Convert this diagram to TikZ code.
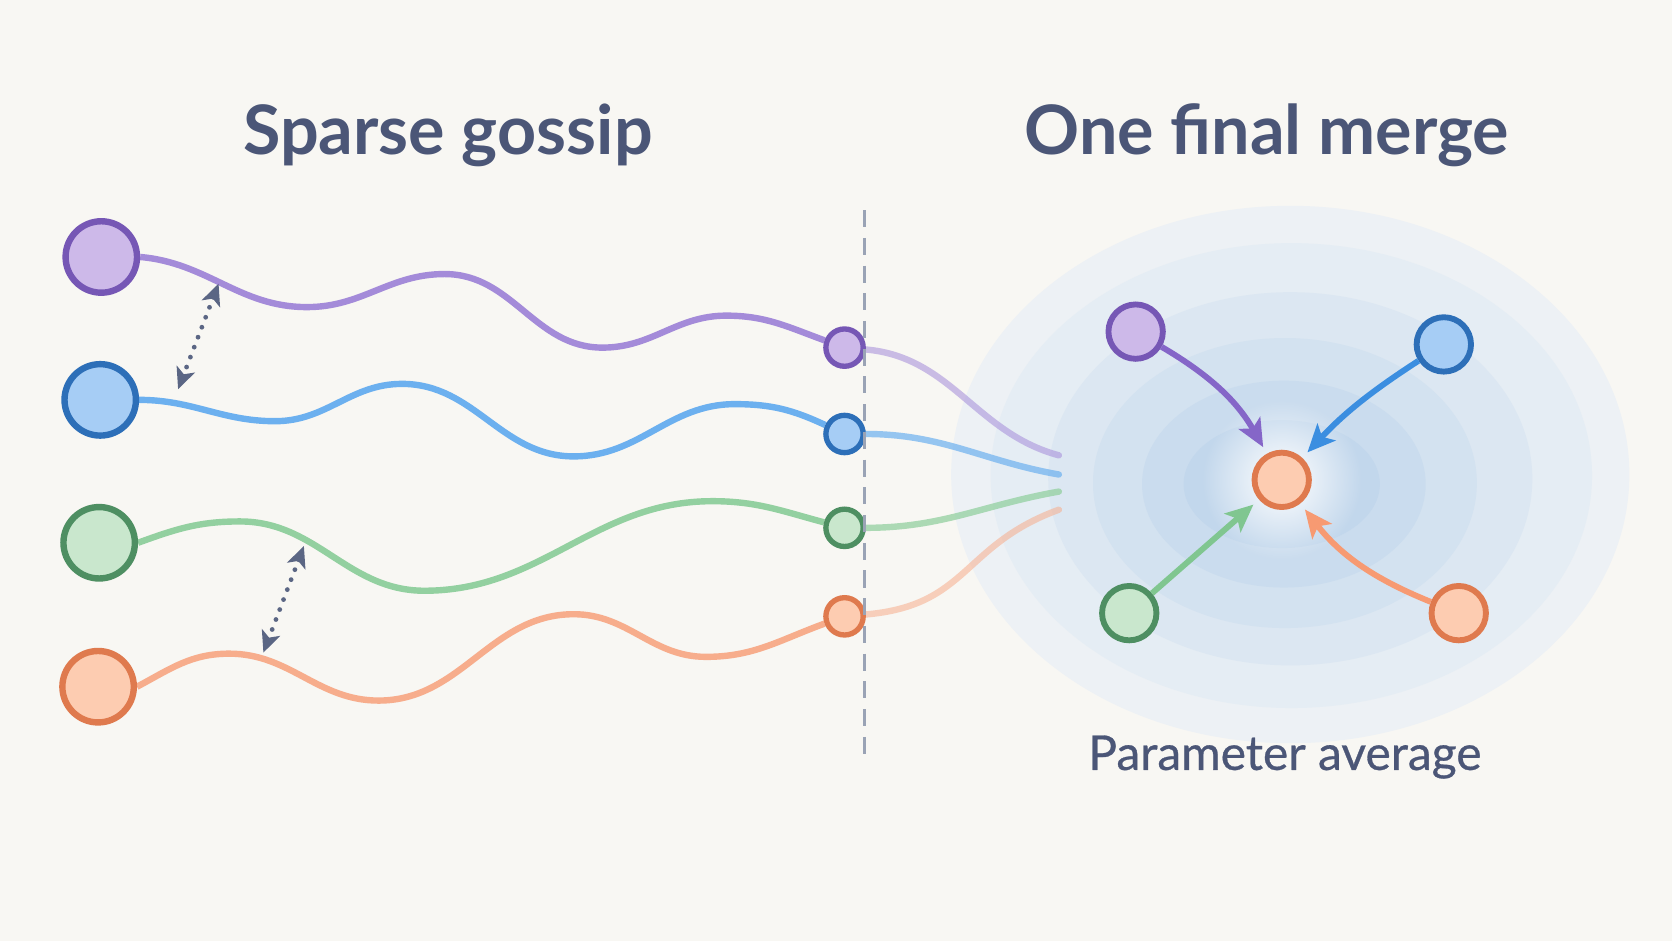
\documentclass[tikz,border=0pt]{standalone}
\usepackage{fontspec}
\setmainfont{Lato}
\newfontfamily\labelfont{Lato}[FakeBold=0.6]
\usetikzlibrary{arrows.meta,fadings}
\definecolor{bg}{HTML}{F8F7F3}
\definecolor{txt}{HTML}{4B5677}
\definecolor{dashc}{HTML}{9AA3B5}
\definecolor{gosc}{HTML}{5B6684}
\definecolor{pF}{HTML}{CDB9E9}\definecolor{pS}{HTML}{7657B5}\definecolor{pC}{HTML}{A48BD9}\definecolor{pA}{HTML}{8566C8}
\definecolor{bF}{HTML}{A6CDF5}\definecolor{bS}{HTML}{2D6FB8}\definecolor{bC}{HTML}{6CB0EF}\definecolor{bA}{HTML}{3B8EE0}
\definecolor{gF}{HTML}{C9E7CD}\definecolor{gS}{HTML}{4E8F62}\definecolor{gC}{HTML}{93D0A0}\definecolor{gA}{HTML}{80C690}
\definecolor{oF}{HTML}{FDCCB1}\definecolor{oS}{HTML}{DF7A4E}\definecolor{oC}{HTML}{F7AD8C}\definecolor{oA}{HTML}{F79A72}
\definecolor{r1}{HTML}{EDF1F5}\definecolor{r2}{HTML}{E5EDF4}\definecolor{r3}{HTML}{DCE7F2}
\definecolor{r4}{HTML}{D3E2F0}\definecolor{r5}{HTML}{CADCEE}\definecolor{r6}{HTML}{C2D7EC}
\tikzfading[name=glowfade, inner color=transparent!0, outer color=transparent!100]
\pgfdeclarelayer{ringlayer}
\pgfdeclarelayer{backlayer}
\pgfsetlayers{ringlayer,backlayer,main}
\begin{document}
\begin{tikzpicture}[x=1pt,y=-1pt,
  bignode/.style={circle, minimum size=67pt, line width=6pt, inner sep=0pt},
  smallnode/.style={circle, minimum size=35pt, line width=5pt, inner sep=0pt},
  mnode/.style={circle, minimum size=51pt, line width=5.5pt, inner sep=0pt},
  wave/.style={line width=6pt},
  fadewave/.style={line width=6pt, line cap=round},
  marrow/.style={line width=5.5pt, -{Stealth[length=26pt,width=23pt,inset=6pt]}, shorten >=7pt},
  gossip/.style={gosc, line width=4.5pt, line cap=round, dash pattern=on 0pt off 10pt,
    {Stealth[length=20pt,width=18pt,inset=5pt]}-{Stealth[length=20pt,width=18pt,inset=5pt]}},
  title/.style={anchor=base, text=txt, font=\fontsize{64}{70}\selectfont\bfseries},
  sublabel/.style={anchor=base, text=txt, font=\fontsize{45}{52}\selectfont\labelfont}
]
\useasboundingbox (0,0) rectangle (1568,882);

% background and merge halo
\begin{pgfonlayer}{ringlayer}
\fill[bg] (0,0) rectangle (1568,882);
\fill[r1] (1210,445) ellipse [x radius=318pt, y radius=252pt];
\fill[r2] (1211,446) ellipse [x radius=282pt, y radius=218pt];
\fill[r3] (1210,449) ellipse [x radius=227pt, y radius=175pt];
\fill[r4] (1205,453) ellipse [x radius=180pt, y radius=136pt];
\fill[r5] (1204,454) ellipse [x radius=133pt, y radius=97pt];
\fill[r6] (1202,454) ellipse [x radius=92pt, y radius=60pt];
\fill[white, path fading=glowfade] (1202,450) circle (75pt);
\end{pgfonlayer}

% titles
\node[title] (t1) at (420,145) {Sparse gossip};
\node[title] (t2) at (1188,145) {One final merge};
\node[sublabel] (t3) at (1205,722) {Parameter average};

% divider
\coordinate (dtop) at (811,197);
\coordinate (dbot) at (811,712);

% left nodes
\node[bignode, draw=pS, fill=pF] (L1) at (95,241) {};
\node[bignode, draw=bS, fill=bF] (L2) at (94,375) {};
\node[bignode, draw=gS, fill=gF] (L3) at (93,509) {};
\node[bignode, draw=oS, fill=oF] (L4) at (92,644) {};

% small nodes
\node[smallnode, draw=pS, fill=pF] (S1) at (792,326) {};
\node[smallnode, draw=bS, fill=bF] (S2) at (792,407) {};
\node[smallnode, draw=gS, fill=gF] (S3) at (792,495) {};
\node[smallnode, draw=oS, fill=oF] (S4) at (792,578) {};

\draw[dashc, line width=3pt, dash pattern=on 16pt off 10pt] (dtop) -- (dbot);

% merge nodes
\node[mnode, draw=pS, fill=pF] (M1) at (1065,311) {};
\node[mnode, draw=bS, fill=bF] (M2) at (1354,323) {};
\node[mnode, draw=gS, fill=gF] (M3) at (1059,575) {};
\node[mnode, draw=oS, fill=oF] (M4) at (1368,575) {};
\node[mnode, draw=oS, fill=oF] (C) at (1202,450) {};

% free ends
\coordinate (e1) at (993,427);
\coordinate (e2) at (993,445);
\coordinate (e3) at (993,461);
\coordinate (e4) at (993,478);

\begin{pgfonlayer}{backlayer}
\draw[wave, pC] (L1.east) to[out=-5,in=180] (288,288) to[out=0,in=180] (417,257)
  to[out=0,in=180] (565,326) to[out=0,in=180] (681,296) to[out=0,in=160] (S1);
\draw[wave, bC] (L2.east) to[out=0,in=180] (258,395) to[out=0,in=180] (377,360)
  to[out=0,in=180] (538,428) to[out=0,in=180] (689,379) to[out=0,in=155] (S2);
\draw[wave, gC] (L3.east) to[out=20,in=180] (225,489) to[out=0,in=180] (398,554)
  to[out=0,in=180] (668,470) to[out=0,in=165] (S3);
\draw[wave, oC] (L4.east) to[out=28,in=180] (215,613) to[out=0,in=180] (355,657)
  to[out=0,in=180] (538,576) to[out=0,in=180] (662,616) to[out=0,in=200] (S4);

\draw[fadewave, pC, opacity=0.55] (S1) to[out=-5,in=165] (e1);
\draw[fadewave, bC, opacity=0.7] (S2) to[out=0,in=170] (e2);
\draw[fadewave, gC, opacity=0.75] (S3) to[out=0,in=190] (e3);
\draw[fadewave, oC, opacity=0.55] (S4) to[out=5,in=200,looseness=1.2] (e4);
\end{pgfonlayer}

% merge arrows
\draw[marrow, pA] (M1) to[bend left=15] (C);
\draw[marrow, bA] (M2) to[bend right=7] (C);
\draw[marrow, gA] (M3) -- (C);
\draw[marrow, oA] (M4) to[bend left=15] (C);

% gossip exchanges
\coordinate (g1a) at (205,266);
\coordinate (g1b) at (167,365);
\coordinate (g2a) at (285,512);
\coordinate (g2b) at (247,612);
\draw[gossip] (g1a) -- (g1b);
\draw[gossip] (g2a) -- (g2b);
\end{tikzpicture}
\end{document}
